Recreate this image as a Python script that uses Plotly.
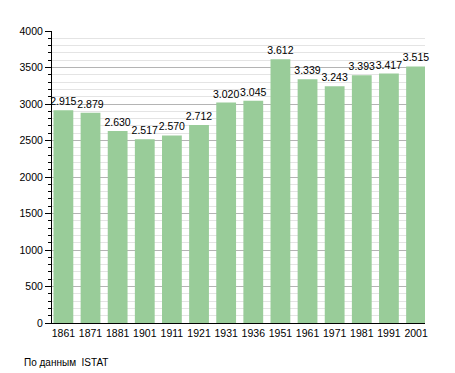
import plotly.graph_objects as go

years = ["1861", "1871", "1881", "1901", "1911", "1921", "1931", "1936", "1951", "1961", "1971", "1981", "1991", "2001"]
population = [2915, 2879, 2630, 2517, 2570, 2712, 3020, 3045, 3612, 3339, 3243, 3393, 3417, 3515]
y_ticks = [0, 500, 1000, 1500, 2000, 2500, 3000, 3500, 4000]
source_note = "По данным  ISTAT"

FONT = "Liberation Sans, Arial, sans-serif"

fig = go.Figure(go.Bar(
    x=years,
    y=population,
    marker=dict(color="#99cc99", line=dict(width=0)),
    texttemplate="%{y:,}",
    textposition="outside",
    constraintext="none",
    cliponaxis=False,
    textfont=dict(family=FONT, size=10.5, color="#000000"),
    hoverinfo="skip",
))

# page body has an 8px default margin, so the figure is 8px smaller
fig.update_layout(
    width=447,
    height=365,
    margin=dict(l=42, r=30, t=23, b=50),
    paper_bgcolor="white",
    plot_bgcolor="white",
    separators=",.",
    bargap=0.27,
    showlegend=False,
    font=dict(family=FONT, size=10, color="#000000"),
    annotations=[dict(
        text=source_note, xref="paper", yref="paper", x=-30 / 375, y=-39 / 292,
        xanchor="left", yanchor="middle", showarrow=False,
        font=dict(family=FONT, size=10, color="#000000"),
    )],
)

fig.update_xaxes(
    type="category",
    range=[-0.42, 13.33],
    showgrid=False,
    showline=True,
    linecolor="#000000",
    linewidth=1,
    ticks="",
    tickfont=dict(family=FONT, size=10.5, color="#000000"),
    fixedrange=True,
)

fig.update_yaxes(
    range=[0, 4000],
    tickvals=y_ticks,
    showgrid=True,
    gridcolor="#b4b4b4",
    gridwidth=1,
    showline=True,
    linecolor="#000000",
    linewidth=1,
    ticks="outside",
    ticklen=6,
    tickcolor="#000000",
    zeroline=False,
    tickfont=dict(family=FONT, size=10.5, color="#000000"),
    minor=dict(dtick=100, ticks="outside", ticklen=3, tickcolor="#000000",
               showgrid=True, gridcolor="#e4e4e4", gridwidth=1),
    fixedrange=True,
)

fig.write_html("out.html")
